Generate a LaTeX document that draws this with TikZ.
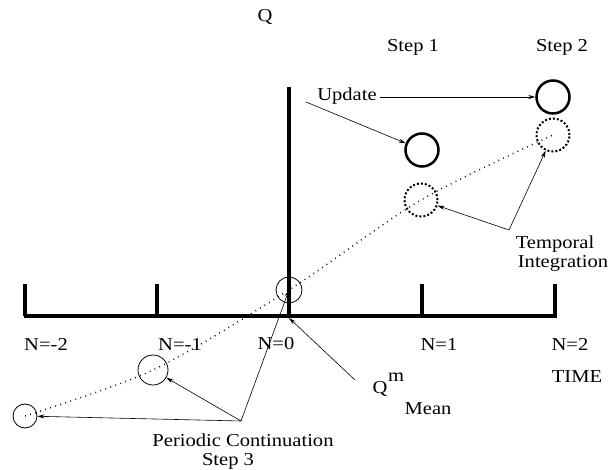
\documentclass[tikz,border=0pt]{standalone}
\usepackage{fontspec}
\setmainfont{Liberation Serif}[FakeStretch=1.13]
\usetikzlibrary{arrows.meta}
\begin{document}
\begin{tikzpicture}[x=1pt,y=-1pt,
  lbl/.style={inner sep=0pt,font=\fontsize{18.2}{18.2}\selectfont},
  axisline/.style={line width=3.5pt},
  thickc/.style={circle,draw,line width=2.5pt,minimum size=33pt,inner sep=0pt},
  dotc/.style={circle,draw,line width=2pt,dotted,minimum size=33pt,inner sep=0pt},
  thinc/.style={circle,draw,line width=0.8pt,inner sep=0pt},
  arr/.style={-{Stealth[length=7pt,width=4pt]},line width=0.6pt},
  traj/.style={dash pattern=on 0.8pt off 4.5pt,line width=1.5pt}]
\useasboundingbox (0,0) rectangle (611,470);
% axes
\coordinate (a0) at (24,316);
\coordinate (a4) at (557,316);
\draw[axisline] (a0) -- (a4);
\coordinate (t0) at (25,284);
\coordinate (t1) at (157,284);
\coordinate (t3) at (422,284);
\coordinate (t4) at (555,284);
\coordinate (b0) at (25,316);
\coordinate (b1) at (157,316);
\coordinate (b3) at (422,316);
\coordinate (b4) at (555,316);
\coordinate (vtop) at (289,87);
\coordinate (vbot) at (289,318);
\draw[axisline] (t0) -- (b0);
\draw[axisline] (t1) -- (b1);
\draw[axisline] (t3) -- (b3);
\draw[axisline] (t4) -- (b4);
\draw[axisline] (vtop) -- (vbot);
% labels
\node[lbl] (q) at (265,17) {Q};
\node[lbl] (s1) at (413,47) {Step 1};
\node[lbl] (s2) at (562,47) {Step 2};
\node[lbl] (nm2) at (46,344) {N=-2};
\node[lbl] (nm1) at (180,344) {N=-1};
\node[lbl] (n0) at (276,344) {N=0};
\node[lbl] (n1) at (439,344) {N=1};
\node[lbl] (n2) at (570,344) {N=2};
\node[lbl] (time) at (577,377) {TIME};
\node[lbl] (qm) at (380,389) {Q};
\node[lbl] (m) at (396,377) {m};
\node[lbl] (mean) at (428,409) {Mean};
\node[lbl] (upd) at (347,96) {Update};
\node[lbl] (temp) at (555,244) {Temporal};
\node[lbl] (integ) at (563,263) {Integration};
\node[lbl] (per) at (243,440) {Periodic Continuation};
\node[lbl] (st3) at (228,461) {Step 3};
% circles
\node[thickc] (c1) at (422,150) {};
\node[thickc] (c2) at (553,97) {};
\node[dotc] (d1) at (421,200) {};
\node[dotc] (d2) at (553,135) {};
\node[thinc,minimum size=26pt] (p0) at (289,290) {};
\node[thinc,minimum size=30pt] (pm1) at (153,370) {};
\node[thinc,minimum size=24pt] (pm2) at (25,416) {};
% trajectory
\draw[traj] plot[smooth,tension=0.5] coordinates {(pm2.center) (pm1.center) (p0.center) (d1.center) (d2.center)};
% arrows
\coordinate (u1) at (306,102);
\coordinate (u2) at (380,97);
\draw[arr] (u1) -- (c1);
\draw[arr] (u2) -- (c2);
\coordinate (ti) at (509,230);
\draw[arr] (ti) -- (d1);
\draw[arr] (ti) -- (d2);
\coordinate (pc) at (241,421);
\draw[arr] (pc) -- (pm1);
\draw[arr] (pc) -- (pm2);
\draw[arr] (pc) -- (p0.center);
\coordinate (mq) at (355,380);
\draw[arr] (mq) -- (vbot);
\end{tikzpicture}
\end{document}
